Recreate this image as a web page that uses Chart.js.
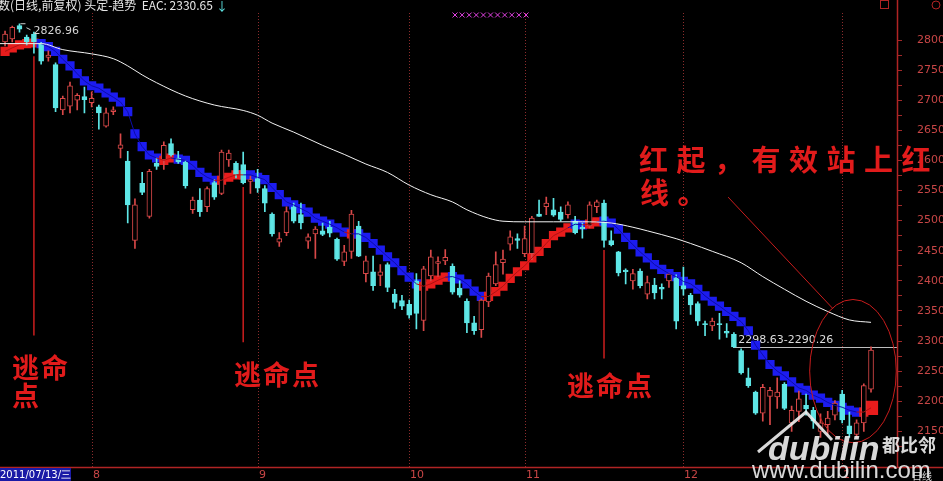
<!DOCTYPE html>
<html>
<head>
<meta charset="utf-8">
<script src="https://cdn.jsdelivr.net/npm/chart.js@4.4.1/dist/chart.umd.min.js"></script>
<style>
  html, body { margin: 0; padding: 0; background: #000; }
  #wrap { width: 943px; height: 481px; }
</style>
</head>
<body>
<div id="wrap"><canvas id="kline" width="943" height="481"></canvas></div>
<script>
// daily candles (index 0 = first visible day)
const opens = [2797,2802,2824,2805,2810,2794,2771,2759,2684,2690, 2700,2706,2696,2689,2657,2681,2620,2599,2467,2562,
  2507,2595,2601,2628,2604,2597,2518,2534,2523,2563, 2545,2601,2595,2593,2565,2570,2553,2511,2464,2480,
  2523,2510,2466,2478,2483,2489,2469,2432,2449,2491, 2412,2415,2409,2427,2378,2367,2361,2400,2334,2408,
  2429,2433,2424,2388,2366,2330,2319,2365,2395,2430, 2461,2470,2445,2445,2511,2523,2518,2514,2510,2499,
  2489,2491,2523,2529,2467,2448,2418,2400,2416,2378, 2393,2389,2400,2405,2392,2376,2362,2329,2325,2329,
  2316,2311,2284,2239,2215,2180,2208,2207,2228,2164, 2183,2193,2185,2150,2161,2177,2212,2159,2145,2164,
  2220];
const highs = [2815,2823,2827,2808,2813,2796,2782,2762,2707,2730, 2711,2722,2714,2692,2687,2689,2644,2615,2536,2580,
  2585,2604,2631,2636,2615,2600,2539,2553,2556,2568, 2617,2617,2598,2614,2574,2585,2558,2513,2480,2523,
  2529,2529,2478,2490,2496,2499,2471,2459,2517,2499, 2441,2441,2427,2430,2386,2376,2368,2412,2424,2451,
  2440,2452,2428,2400,2370,2341,2370,2413,2448,2451, 2483,2478,2491,2507,2534,2539,2537,2523,2531,2507,
  2496,2531,2534,2534,2483,2449,2420,2419,2420,2408, 2404,2395,2413,2410,2423,2379,2365,2333,2338,2346,
  2329,2314,2287,2255,2217,2228,2223,2239,2231,2192, 2217,2212,2190,2179,2183,2201,2218,2182,2169,2229,
  2290.26];
const lows = [2790,2797,2813,2792,2778,2760,2765,2681,2676,2679, 2684,2679,2689,2652,2655,2676,2604,2496,2454,2543,
  2504,2585,2585,2607,2595,2554,2512,2507,2515,2535, 2543,2590,2571,2561,2545,2547,2515,2474,2457,2475,
  2496,2486,2454,2437,2475,2473,2434,2425,2437,2440, 2398,2384,2392,2382,2354,2352,2338,2320,2317,2400,
  2407,2427,2378,2373,2314,2311,2306,2357,2392,2411, 2451,2454,2440,2435,2507,2510,2507,2499,2504,2478,
  2471,2488,2513,2456,2458,2408,2395,2386,2388,2370, 2370,2370,2389,2320,2376,2344,2326,2309,2317,2303,
  2306,2289,2245,2223,2178,2167,2161,2188,2186,2150, 2166,2177,2155,2140,2145,2169,2164,2140,2140,2150,
  2215];
const closes = [2810,2821,2818,2797,2797,2765,2775,2687,2703,2724, 2708,2701,2703,2679,2679,2684,2626,2526,2526,2547,
  2582,2590,2625,2609,2598,2558,2534,2515,2553,2539, 2614,2612,2577,2563,2568,2554,2529,2478,2470,2515,
  2499,2496,2473,2486,2477,2479,2436,2448,2511,2441, 2433,2392,2415,2389,2364,2358,2343,2346,2420,2440,
  2432,2439,2381,2376,2330,2317,2368,2408,2427,2436, 2473,2467,2470,2504,2507,2529,2509,2502,2526,2480,
  2486,2526,2531,2467,2460,2413,2415,2412,2392,2397, 2380,2386,2411,2333,2386,2360,2333,2327,2333,2327,
  2313,2290,2247,2226,2180,2223,2218,2215,2188,2185, 2204,2187,2167,2164,2172,2197,2169,2146,2164,2226,
  2285];

// trend band (头定-趋势), one value per day, 1 = red / 0 = blue
const bandVals = [2781,2787,2792,2794,2795,2794,2789,2781,2768,2757, 2744,2732,2724,2720,2712,2705,2697,2681,2644,2623,
  2609,2604,2600,2604,2602,2600,2592,2580,2572,2567, 2567,2572,2576,2576,2576,2572,2568,2555,2543,2531,
  2526,2520,2514,2504,2499,2494,2488,2481,2478,2478, 2472,2462,2451,2440,2430,2417,2406,2395,2391,2395,
  2401,2406,2407,2403,2395,2383,2374,2374,2382,2391, 2404,2415,2425,2438,2449,2462,2475,2481,2488,2494,
  2493,2494,2498,2499,2496,2486,2472,2460,2448,2438, 2427,2419,2412,2407,2399,2395,2386,2375,2366,2358,
  2349,2341,2332,2317,2293,2277,2261,2250,2242,2232, 2222,2218,2210,2205,2198,2193,2190,2185,2182,2182,
  2189];
const bandUp = [1,1,1,1,1,0,0,0,0,0, 0,0,0,0,0,0,0,0,0,0, 0,0,1,1,0,0,0,0,0,0, 1,1,1,1,0,0,0,0,0,0,
  0,0,0,0,0,0,0,0,1,0, 0,0,0,0,0,0,0,0,1,1, 1,1,0,0,0,0,0,1,1,1, 1,1,1,1,1,1,1,1,1,0,
  0,1,1,0,0,0,0,0,0,0, 0,0,0,0,0,0,0,0,0,0, 0,0,0,0,0,0,0,0,0,0, 0,0,0,0,0,0,0,0,0,1,
  1];

// EAC line, read at a few days
const maIdx  = [-1,0,5,8,12,15,17,19,21,25,29,33,35,37,40,44,47,50,53,56,59,62,64,67,69,72,76,80,84,87,89,93,95,98,102,105,108,111,114,117,120];
const maVals = [2794,2794,2794,2784,2777,2769,2757,2742,2729,2707,2692,2683,2675,2662,2647,2625,2610,2594,2580,2559,2543,2531,2518,2504,2499,2498,2498,2498,2496,2489,2483,2470,2462,2449,2430,2407,2386,2366,2349,2335,2331];

// axis / calendar
const priceTicks = [2800,2750,2700,2650,2600,2550,2500,2450,2400,2350,2300,2250,2200,2150];
const monthStarts = [12, 35, 56, 72, 94, 116];
const monthNames = ['8', '9', '10', '11', '12', '1'];

// marks drawn on the chart by hand
const escapeDays = [4, 33, 83];
const escapeEnds = [2309, 2298, 2271];
const priceRangeText = '2298.63-2290.26';
const priceRangeLine = 2290.26;

const RED = '#d84848';
const CYAN = '#5ee6e6';
const isUp = closes.map((c, i) => c >= opens[i]);
const bandPts = bandVals.map((v, i) => ({ x: i, y: v }));

function drawChars(ctx, text, x, y, pitch) {
    [...text].forEach((ch, k) => ctx.fillText(ch, x + k * pitch, y));
}

const overlay = {
    id: 'overlay',
    beforeDraw(chart) {
        const ctx = chart.ctx;
        ctx.save();
        ctx.fillStyle = '#000';
        ctx.fillRect(0, 0, chart.width, chart.height);
        ctx.restore();
    },
    beforeDatasetsDraw(chart) {
        const { ctx, chartArea, scales: { x, y } } = chart;
        ctx.save();
        // month separators
        ctx.strokeStyle = '#8c2c2c';
        ctx.lineWidth = 1;
        ctx.setLineDash([1, 2]);
        monthStarts.forEach(i => {
            const px = Math.round(x.getPixelForValue(i)) + 0.5;
            ctx.beginPath();
            ctx.moveTo(px, 13);
            ctx.lineTo(px, 467);
            ctx.stroke();
        });
        ctx.setLineDash([]);
        // price range line + text
        const ly = Math.round(y.getPixelForValue(priceRangeLine)) + 0.5;
        ctx.strokeStyle = '#bdbdbd';
        ctx.beginPath();
        ctx.moveTo(x.getPixelForValue(100.9), ly);
        ctx.lineTo(chartArea.right, ly);
        ctx.stroke();
        ctx.fillStyle = '#dcdcdc';
        ctx.font = '11px "DejaVu Sans"';
        ctx.textBaseline = 'bottom';
        ctx.fillText(priceRangeText, x.getPixelForValue(101.6), ly - 2);
        ctx.restore();
    },
    afterDatasetsDraw(chart) {
        const { ctx, scales: { x, y } } = chart;
        ctx.save();
        // escape lines
        ctx.strokeStyle = '#cc1e1e';
        ctx.lineWidth = 1.5;
        escapeDays.forEach((d, k) => {
            const px = x.getPixelForValue(d);
            ctx.beginPath();
            ctx.moveTo(px, y.getPixelForValue(lows[d]) + 3);
            ctx.lineTo(px, y.getPixelForValue(escapeEnds[k]));
            ctx.stroke();
        });
        // pointer line and ellipse
        ctx.lineWidth = 1;
        ctx.strokeStyle = '#c81c1c';
        ctx.beginPath();
        ctx.moveTo(x.getPixelForValue(100.2), y.getPixelForValue(2539));
        ctx.lineTo(x.getPixelForValue(114.7), y.getPixelForValue(2354));
        ctx.stroke();
        const cx = x.getPixelForValue(117.5), cy = y.getPixelForValue(2250);
        const rx = x.getPixelForValue(123.5) - cx, ry = y.getPixelForValue(2250) - y.getPixelForValue(2369);
        ctx.beginPath();
        ctx.ellipse(cx, cy, rx, ry, 0, 0, Math.PI * 2);
        ctx.stroke();
        // max label
        const hx = x.getPixelForValue(2), hy = y.getPixelForValue(highs[2]);
        ctx.strokeStyle = '#cfcfcf';
        ctx.beginPath();
        ctx.moveTo(hx + 1, hy);
        ctx.lineTo(hx + 6, hy);
        ctx.moveTo(hx + 7, hy + 4);
        ctx.lineTo(hx + 11, hy + 6);
        ctx.stroke();
        ctx.fillStyle = '#d6d6d6';
        ctx.font = '11px "DejaVu Sans"';
        ctx.textBaseline = 'middle';
        ctx.fillText('2826.96', hx + 14, hy + 7);
        ctx.restore();
    },
    afterDraw(chart) {
        const { ctx, scales: { x } } = chart;
        ctx.save();
        // axis lines
        ctx.strokeStyle = '#b02424';
        ctx.lineWidth = 1.5;
        ctx.beginPath();
        ctx.moveTo(897.5, 0);
        ctx.lineTo(897.5, 467);
        ctx.moveTo(0, 467.5);
        ctx.lineTo(943, 467.5);
        ctx.stroke();

        // header
        ctx.font = '12px "Noto Sans CJK SC"';
        ctx.textBaseline = 'alphabetic';
        ctx.fillStyle = '#e6e6e6';
        const head = '数(日线,前复权) 头定-趋势  EAC: 2330.65';
        ctx.fillText(head, -2, 10);
        const hw = ctx.measureText(head).width;
        ctx.fillStyle = '#5ee6e6';
        ctx.fillText('↓', hw + 1, 11);
        // magenta marks
        ctx.strokeStyle = '#e040e0';
        ctx.lineWidth = 1;
        for (let k = 0; k < 11; k++) {
            const mx = 455 + k * 7.1;
            ctx.beginPath();
            ctx.moveTo(mx - 2.5, 12.5); ctx.lineTo(mx + 2.5, 17.5);
            ctx.moveTo(mx + 2.5, 12.5); ctx.lineTo(mx - 2.5, 17.5);
            ctx.stroke();
        }
        // small icons top right
        ctx.strokeStyle = '#b02424';
        ctx.strokeRect(880.5, 0.5, 8, 8);
        ctx.beginPath();
        ctx.arc(936, 5, 4, 0, Math.PI * 2);
        ctx.stroke();

        // bottom: date box and months
        ctx.fillStyle = '#1a1aa6';
        ctx.fillRect(0, 468, 71, 13);
        ctx.fillStyle = '#ffffff';
        ctx.font = '10px "DejaVu Sans"';
        ctx.textBaseline = 'middle';
        ctx.fillText('2011/07/13/三', 0, 475, 71);
        ctx.fillStyle = '#c84646';
        ctx.font = '11px "DejaVu Sans"';
        monthStarts.forEach((i, k) => {
            ctx.fillText(monthNames[k], Math.round(x.getPixelForValue(i)) + 1, 475);
        });

        // red notes
        ctx.fillStyle = '#e11b1b';
        ctx.font = 'bold 27px "Noto Sans CJK SC"';
        ctx.textBaseline = 'alphabetic';
        drawChars(ctx, '逃命', 12, 378, 29);
        drawChars(ctx, '点', 12, 406, 29);
        drawChars(ctx, '逃命点', 234, 385, 29);
        drawChars(ctx, '逃命点', 567, 396, 29);
        ctx.font = 'bold 29px "Noto Sans CJK SC"';
        drawChars(ctx, '红起，有效站上红', 639, 171, 37.5);
        drawChars(ctx, '线。', 640, 204, 37.5);

        // watermark
        ctx.fillStyle = 'rgba(240,240,240,0.9)';
        ctx.strokeStyle = 'rgba(240,240,240,0.9)';
        ctx.lineWidth = 3;
        ctx.beginPath();
        ctx.moveTo(758, 452); ctx.lineTo(806, 412); ctx.lineTo(832, 440);
        ctx.stroke();
        ctx.font = 'italic bold 34px "Liberation Sans"';
        ctx.textBaseline = 'alphabetic';
        ctx.fillText('dubilin', 768, 460, 112);
        ctx.font = 'bold 18px "Noto Sans CJK SC"';
        ctx.fillText('都比邻', 882, 452);
        ctx.font = '24px "Liberation Sans"';
        ctx.fillText('www.dubilin.com', 752, 478, 190);
        ctx.fillStyle = '#dcdcdc';
        ctx.font = '10px "Noto Sans CJK SC"';
        ctx.fillText('日线', 912, 480);
        ctx.restore();
    }
};

new Chart(document.getElementById('kline'), {
    type: 'bar',
    data: {
        datasets: [
            {
                type: 'line',
                label: 'EAC',
                data: maIdx.map((v, k) => ({ x: v, y: maVals[k] })),
                borderColor: '#f2f2f2',
                borderWidth: 1,
                pointRadius: 0,
                cubicInterpolationMode: 'monotone',
                order: 0
            },
            {
                type: 'line',
                label: '趋势线',
                data: bandPts,
                borderWidth: 1,
                pointRadius: 0,
                segment: { borderColor: c => bandUp[c.p1DataIndex] ? '#b01212' : '#0c0ca8' },
                order: 1
            },
            {
                label: '实体',
                data: opens.map((o, i) => ({ x: i, y: [o, closes[i]] })),
                backgroundColor: isUp.map(u => u ? '#000' : CYAN),
                borderColor: isUp.map(u => u ? RED : CYAN),
                borderWidth: 1,
                borderSkipped: false,
                barThickness: 5,
                minBarLength: 1,
                grouped: false,
                order: 2
            },
            {
                label: '影线',
                data: lows.map((l, i) => ({ x: i, y: [l, highs[i]] })),
                backgroundColor: isUp.map(u => u ? RED : CYAN),
                barThickness: 1,
                grouped: false,
                order: 3
            },
            {
                type: 'line',
                label: '趋势',
                data: bandPts,
                showLine: false,
                pointStyle: 'rect',
                pointRadius: bandVals.map((v, i) => i === bandVals.length - 1 ? 10 : 6.5),
                pointBackgroundColor: bandUp.map(u => u ? '#e81c1c' : '#1c1cf0'),
                pointBorderWidth: 0,
                order: 4
            }
        ]
    },
    options: {
        responsive: false,
        devicePixelRatio: 1,
        animation: false,
        events: [],
        layout: { autoPadding: false, padding: { top: 14, bottom: 15, left: 0, right: 0 } },
        plugins: { legend: { display: false }, tooltip: { enabled: false } },
        scales: {
            x: {
                type: 'linear',
                display: false,
                offset: false,
                min: -0.7,
                max: 123.6
            },
            y: {
                position: 'right',
                min: 2103.34,
                max: 2830.57,
                afterBuildTicks: axis => {
                    const t = [];
                    priceTicks.forEach(v => { t.push({ value: v }); t.push({ value: v - 25 }); });
                    axis.ticks = t.filter(k => k.value > 2110);
                },
                afterFit: axis => { axis.width = 46; },
                ticks: {
                    color: '#c84646',
                    font: { family: 'DejaVu Sans', size: 11 },
                    padding: 15,
                    autoSkip: false,
                    callback: v => (v % 50 === 0 ? String(v) : '')
                },
                grid: { drawOnChartArea: false, color: '#a02828', tickLength: 5 },
                border: { display: false }
            }
        }
    },
    plugins: [overlay]
});
</script>
</body>
</html>
